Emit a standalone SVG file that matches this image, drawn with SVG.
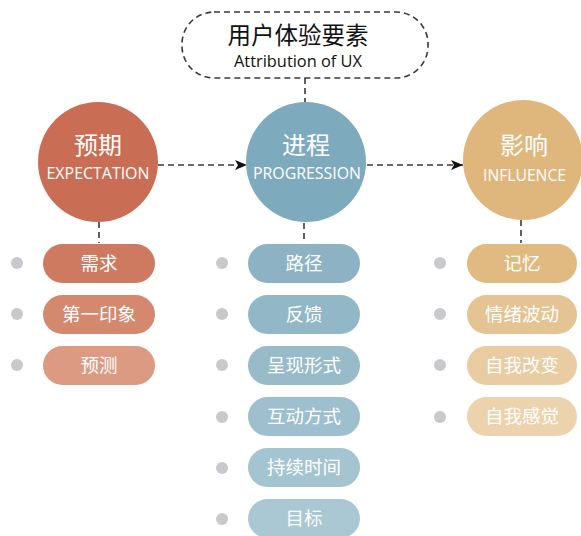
<svg xmlns="http://www.w3.org/2000/svg" width="581" height="536" viewBox="0 0 581 536">
<defs>
<style>
.dash{fill:none;stroke:#3a3a3a;stroke-width:1.6;stroke-dasharray:6 4}
.cn{font-family:"Noto Sans CJK SC","Noto Sans",sans-serif;fill:#fff;text-anchor:middle;font-weight:400}
.en{font-family:"Open Sans","Liberation Sans",sans-serif;fill:#fff;text-anchor:middle;font-size:17px}
.pt{font-family:"Noto Sans CJK SC",sans-serif;fill:#fff;text-anchor:middle;font-size:18.5px;font-weight:400}
.dot{fill:#c9c9cd}
</style>
<marker id="arr" viewBox="0 0 12 10" refX="12" refY="5" markerWidth="12" markerHeight="10" markerUnits="userSpaceOnUse" orient="auto">
<path d="M0,0 L12,5 L0,10 L3,5 Z" fill="#111"/>
</marker>
</defs>
<rect width="581" height="536" fill="#fff"/>
<g id="connectors">
<line class="dash" x1="305" y1="78" x2="305" y2="102"/>
<line class="dash" x1="158" y1="165" x2="247" y2="165" marker-end="url(#arr)"/>
<line class="dash" x1="367" y1="165" x2="463" y2="165" marker-end="url(#arr)"/>
<line class="dash" x1="99" y1="222" x2="99" y2="243"/>
<line class="dash" x1="304" y1="223" x2="304" y2="243"/>
<line class="dash" x1="521" y1="220" x2="521" y2="243"/>
</g>
<g id="title">
<rect x="182" y="12" width="246" height="66" rx="32" ry="32" class="dash"/>
<text x="298" y="44" font-family="Noto Sans CJK SC,sans-serif" font-size="23.5" font-weight="400" fill="#111" text-anchor="middle">用户体验要素</text>
<text x="298" y="67" font-family="Open Sans,Liberation Sans,sans-serif" font-size="16" fill="#111" text-anchor="middle" textLength="128" lengthAdjust="spacingAndGlyphs">Attribution of UX</text>
</g>
<g id="expectation">
<circle cx="98" cy="162" r="60" fill="#c96e55"/>
<text class="cn" x="98" y="154" font-size="24">预期</text>
<text class="en" x="98" y="179" textLength="103" lengthAdjust="spacingAndGlyphs">EXPECTATION</text>
</g>
<g id="progression">
<circle cx="306" cy="162" r="60" fill="#7eaabd"/>
<text class="cn" x="306" y="154" font-size="24">进程</text>
<text class="en" x="307" y="179" textLength="108" lengthAdjust="spacingAndGlyphs">PROGRESSION</text>
</g>
<g id="influence">
<circle cx="523" cy="160" r="60" fill="#dfb77c"/>
<text class="cn" x="524" y="154" font-size="24">影响</text>
<text class="en" x="524.5" y="181" textLength="83" lengthAdjust="spacingAndGlyphs">INFLUENCE</text>
</g>
<g id="exp-items">
<circle class="dot" cx="17" cy="263" r="6"/><rect x="43" y="244" width="112" height="39" rx="19.5" fill="#cd7a60"/><text class="pt" x="99" y="270">需求</text>
<circle class="dot" cx="17" cy="314" r="6"/><rect x="43" y="295" width="112" height="39" rx="19.5" fill="#d4896f"/><text class="pt" x="99" y="321">第一印象</text>
<circle class="dot" cx="17" cy="365" r="6"/><rect x="43" y="346" width="112" height="39" rx="19.5" fill="#dc9a82"/><text class="pt" x="99" y="372">预测</text>
</g>
<g id="prog-items">
<circle class="dot" cx="222" cy="263" r="6"/><rect x="248" y="244" width="112" height="39" rx="19.5" fill="#8cb2c3"/><text class="pt" x="304" y="270">路径</text>
<circle class="dot" cx="222" cy="314" r="6"/><rect x="248" y="295" width="112" height="39" rx="19.5" fill="#92b7c7"/><text class="pt" x="304" y="321">反馈</text>
<circle class="dot" cx="222" cy="365" r="6"/><rect x="248" y="346" width="112" height="39" rx="19.5" fill="#98bbca"/><text class="pt" x="304" y="372">呈现形式</text>
<circle class="dot" cx="222" cy="417" r="6"/><rect x="248" y="397" width="112" height="39" rx="19.5" fill="#9ebfcd"/><text class="pt" x="304" y="423">互动方式</text>
<circle class="dot" cx="222" cy="468" r="6"/><rect x="248" y="448" width="112" height="39" rx="19.5" fill="#a4c4d1"/><text class="pt" x="304" y="474">持续时间</text>
<circle class="dot" cx="222" cy="519" r="6"/><rect x="248" y="499" width="112" height="39" rx="19.5" fill="#aac8d4"/><text class="pt" x="304" y="525">目标</text>
</g>
<g id="infl-items">
<circle class="dot" cx="440" cy="263" r="6"/><rect x="467" y="244" width="110" height="39" rx="19.5" fill="#e0ba80"/><text class="pt" x="522" y="270">记忆</text>
<circle class="dot" cx="440" cy="314" r="6"/><rect x="467" y="295" width="110" height="39" rx="19.5" fill="#e5c493"/><text class="pt" x="522" y="321">情绪波动</text>
<circle class="dot" cx="440" cy="365" r="6"/><rect x="467" y="346" width="110" height="39" rx="19.5" fill="#e9cca2"/><text class="pt" x="522" y="372">自我改变</text>
<circle class="dot" cx="440" cy="417" r="6"/><rect x="467" y="397" width="110" height="39" rx="19.5" fill="#ecd3ad"/><text class="pt" x="522" y="423">自我感觉</text>
</g>
</svg>
